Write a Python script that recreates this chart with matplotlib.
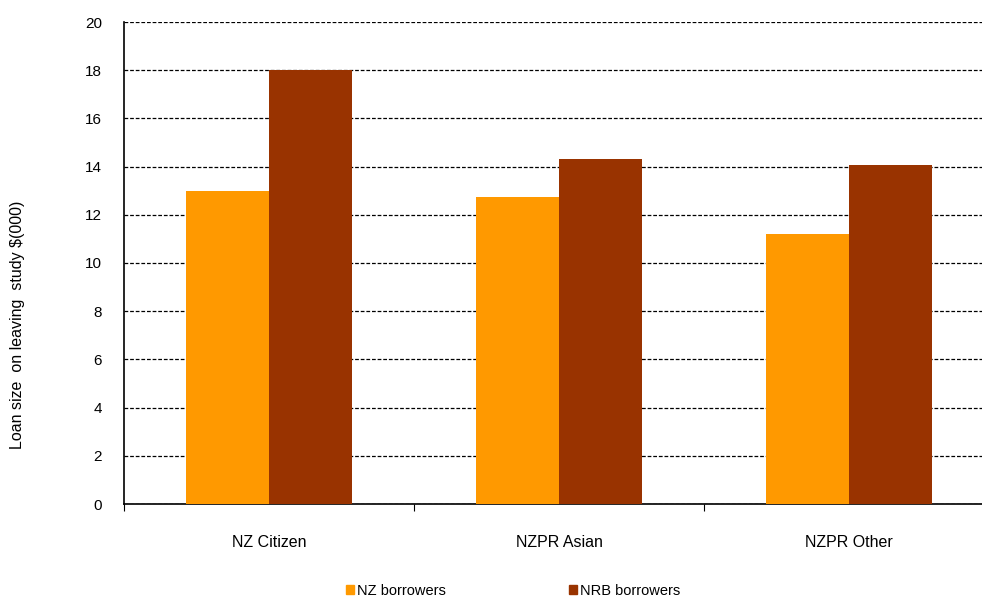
import numpy as np
import matplotlib.pyplot as plt
from matplotlib.patches import Patch

plt.rcParams['font.family'] = ['Liberation Sans', 'DejaVu Sans']

groups = ['NZ Citizen', 'NZPR Asian', 'NZPR Other']
nz_borrowers = [13.0, 12.75, 11.2]
nrb_borrowers = [18.0, 14.3, 14.05]
series_names = ['NZ borrowers', 'NRB borrowers']
colors = ['#FF9900', '#993300']

fig = plt.figure(figsize=(9.82, 5.99), dpi=100)
ax = fig.add_axes([124 / 982, 1 - 504 / 599, 870 / 982, 482 / 599])

x = np.arange(len(groups))
w = 0.287
ax.bar(x - w / 2, nz_borrowers, w, color=colors[0], zorder=3)
ax.bar(x + w / 2, nrb_borrowers, w, color=colors[1], zorder=3)

ax.set_xlim(-0.5, len(groups) - 0.5)
ax.set_ylim(0, 20)
ax.set_yticks(range(0, 21, 2))
ax.yaxis.grid(True, linestyle=(0, (3, 1.5)), color='black', linewidth=0.9, zorder=0)
ax.tick_params(axis='y', length=0, pad=16, labelsize=11)

# boundary ticks between groups, labels at the group centres
ax.set_xticks(np.arange(len(groups) + 1) - 0.5)
ax.set_xticklabels([])
ax.tick_params(axis='x', which='major', length=5, direction='out', width=0.8)
ax.set_xticks(x, minor=True)
ax.set_xticklabels(groups, minor=True)
ax.tick_params(axis='x', which='minor', length=0, pad=22, labelsize=11.5)

for s in ['top', 'right']:
    ax.spines[s].set_visible(False)
for s in ['left', 'bottom']:
    ax.spines[s].set_linewidth(1.2)

fig.text(18 / 982, 1 - 325 / 599, 'Loan size  on leaving  study $(000)',
         rotation=90, ha='center', va='center', fontsize=11.5)

handles = [Patch(color=c) for c in colors]
fig.legend(handles, series_names, loc='center', bbox_to_anchor=(513 / 982, 1 - 591 / 599),
           ncol=2, frameon=False, fontsize=10.5, handlelength=0.6, handleheight=0.6,
           handletextpad=0.2, columnspacing=8.4)

fig.savefig('out.png', dpi=100)
